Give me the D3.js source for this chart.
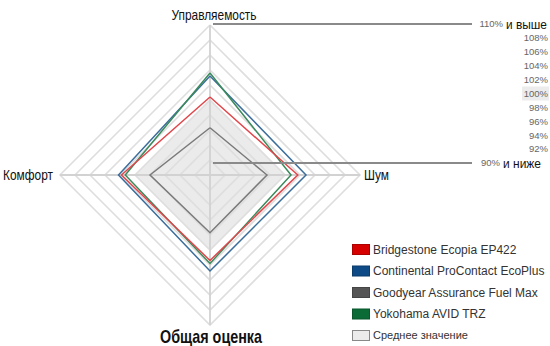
<!DOCTYPE html>
<html>
<head>
<meta charset="utf-8">
<script src="https://cdn.jsdelivr.net/npm/d3@7"></script>
<style>
body{margin:0;background:#fff;}
svg{display:block;}
</style>
</head>
<body>
<div id="chart"></div>
<script>
// axes clockwise from top
var axes=["Управляемость","Шум","Общая оценка","Комфорт"]
var series=["Bridgestone Ecopia EP422","Continental ProContact EcoPlus","Goodyear Assurance Fuel Max","Yokohama AVID TRZ"]
var bridgestone=[100.4,101.7,101.4,101.8]
var continental=[103.2,102.8,102.8,102.2]
var goodyear=[96.3,97.6,97.7,98.0]
var yokohama=[103.6,100.8,101.8,101.3]
var average=[100,100,100,100]
var averageLabel="Среднее значение"
var levels=[92,94,96,98,100,102,104,106,108,110]
var tickLabels=[110,108,106,104,102,100,98,96,94,92,90]

var colors=["#d60000","#0d4a86","#555555","#0b6b36"]
var lineColors=["#e0474c","#3c6e9c","#7a7a7a","#3b8a5c"]

var svgWidth=550
var svgHeight=346
var cx=210, cy=175

var svg=d3.select("#chart").append("svg")
    .attr("width",svgWidth)
    .attr("height",svgHeight)

var r=d3.scaleLinear().domain([90,110]).range([0,150])
var angle=d3.scalePoint().domain(axes).range([0,270])  // degrees, 0 = top

function pt(ax,v){
    var a=angle(ax)*Math.PI/180
    return [cx+r(v)*Math.sin(a), cy-r(v)*Math.cos(a)]
}
var line=d3.line()
function poly(vals){
    var p=axes.map((ax,i)=>pt(ax,vals[i]))
    p.push(p[0])
    return line(p)
}

// average fill
svg.append("path")
    .attr("d",poly(average))
    .attr("fill","#ebebeb")
    .attr("stroke","none")

// grid rings
svg.selectAll(".ring").data(levels).enter().append("path")
    .attr("class","ring")
    .attr("d",d=>poly(axes.map(()=>d)))
    .attr("fill","none")
    .attr("stroke","#dedede")
    .attr("stroke-width",1.6)

// axes lines
svg.selectAll(".axis").data(axes).enter().append("line")
    .attr("x1",cx).attr("y1",cy)
    .attr("x2",d=>pt(d,110)[0])
    .attr("y2",d=>pt(d,110)[1])
    .attr("stroke","#d2d2d2")
    .attr("stroke-width",1.8)

// series
var allSeries=[bridgestone,continental,goodyear,yokohama]
var drawOrder=[2,1,3,0]
drawOrder.forEach(i=>{
    svg.append("path")
        .attr("d",poly(allSeries[i]))
        .attr("fill","none")
        .attr("stroke",lineColors[i])
        .attr("stroke-width",1.5)
        .attr("stroke-linejoin","miter")
})

// right scale labels
var ly=d3.scaleLinear().domain([110,90]).range([24,163])

svg.append("rect")
    .attr("x",522).attr("y",ly(100)-7)
    .attr("width",27).attr("height",14)
    .attr("fill","#ececec")

// pointer lines
;[110,90].forEach(v=>{
    svg.append("line")
        .attr("x1",cx+3).attr("x2",472)
        .attr("y1",ly(v)).attr("y2",ly(v))
        .attr("stroke","#8a8a8a")
        .attr("stroke-width",1.8)
})

var narrow="Liberation Sans, Arial, sans-serif"
var tl=svg.append("g").attr("font-family","Liberation Sans, Arial, sans-serif")
tickLabels.forEach(v=>{
    if(v==110||v==90){
        tl.append("text")
            .attr("x",v==110?503:500)
            .attr("y",ly(v))
            .attr("dy","0.35em")
            .attr("text-anchor","end")
            .attr("font-size",9.5).attr("fill","#666").text(v+"%")
        tl.append("text")
            .attr("x",v==110?506:503)
            .attr("y",ly(v))
            .attr("dy","0.35em")
            .attr("font-size",13).attr("fill","#111")
            .attr("textLength",v==110?41:38)
            .attr("lengthAdjust","spacingAndGlyphs")
            .text(v==110?"и выше":"и ниже")
    } else {
        tl.append("text")
            .attr("x",548)
            .attr("y",ly(v))
            .attr("dy","0.35em")
            .attr("text-anchor","end")
            .attr("font-size",9.5)
            .attr("fill","#666")
            .text(v+"%")
    }
})

// axis titles (condensed via textLength)
function title(txt,x,y,anchor,size,len,weight){
    svg.append("text").attr("x",x).attr("y",y)
        .attr("text-anchor",anchor).attr("font-family",narrow)
        .attr("font-size",size).attr("font-weight",weight||"normal")
        .attr("fill","#111")
        .attr("textLength",len).attr("lengthAdjust","spacingAndGlyphs")
        .text(txt)
}
title(axes[0],cx+4,20,"middle",15,85)
title(axes[1],364,180,"start",15,25)
title(axes[2],cx+1,343,"middle",19,102,"bold")
title(axes[3],53,180,"end",15,50)

// legend
var legendItems=series.map((s,i)=>({name:s,color:colors[i],stroke:d3.color(colors[i]).darker(0.6)}))
legendItems.push({name:averageLabel,color:"#ebebeb",stroke:"#888"})
var lg=svg.append("g").attr("transform","translate(352,244)")
lg.selectAll("g").data(legendItems).enter().append("g")
    .attr("transform",(d,i)=>`translate(0,${i*21.5})`)
    .each(function(d,i){
        var g=d3.select(this)
        g.append("rect").attr("x",0.5).attr("y",0.5)
            .attr("width",17).attr("height",10)
            .attr("fill",d.color).attr("stroke",d.stroke)
        g.append("text").attr("x",21).attr("y",5.5).attr("dy","0.35em")
            .attr("font-family","Liberation Sans, Arial, sans-serif")
            .attr("font-size",i==4?11:12).attr("fill","#333").text(d.name)
    })
</script>
</body>
</html>
